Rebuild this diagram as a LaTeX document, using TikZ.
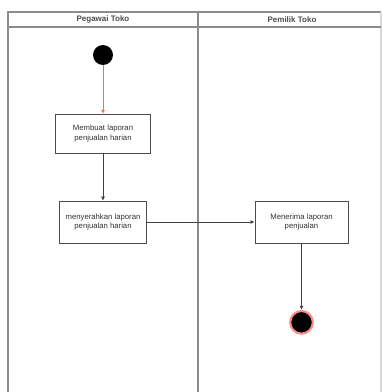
\documentclass[tikz,border=0pt]{standalone}
\usepackage{fontspec}
\setmainfont{Liberation Sans}
\usetikzlibrary{positioning}
\usetikzlibrary{arrows.meta}
\usepackage{xcolor}

\tikzset{
    activity/.style={draw=black!70, rectangle, fill=white, align=center, text=black!80, font=\fontsize{5.8}{7}\selectfont, inner sep=1pt},
    flow/.style={-{Latex[length=3pt,width=3pt]}, draw=black!75, line width=0.6pt},
    lane/.style={draw=black!45, line width=0.8pt}
}

\begin{document}
\begin{tikzpicture}[x=0.75pt, y=-0.75pt]
            % page size
            \useasboundingbox (0,0) rectangle (382,392);
            % swimlanes
            \draw[lane] (8,392) -- (8,12) -- (381,12);
            \draw[lane, draw=black!15] (381,12) -- (381,392);
            \draw[lane] (8,27) -- (381,27);
            \draw[lane] (198,12) -- (198,392);
            \node[font=\fontsize{6}{7}\selectfont\bfseries, text=black!70] (lane1) at (103,19.5) {Pegawai Toko};
            \node[font=\fontsize{6}{7}\selectfont\bfseries, text=black!70] (lane2) at (292,19.5) {Pemilik Toko};

            % activities
            \node[circle, fill=black, minimum size=15pt, inner sep=0pt] (start) at (103,55) {};
            \node[activity, minimum width=71pt, minimum height=29pt] (membuat) at (103,133.5) {Membuat laporan\\penjualan harian};
            \node[activity, minimum width=65pt, minimum height=31.5pt] (serah) at (103,222) {menyerahkan laporan\\penjualan harian};
            \node[activity, minimum width=70pt, minimum height=31.5pt] (terima) at (301.5,222) {Menerima laporan\\penjualan};
            \node[circle, fill=black, draw=red!45, line width=1.6pt, minimum size=17pt, inner sep=0pt, below=50pt of terima] (end) {};

            \draw[flow, draw=red!60, line width=0.7pt] (start) -- (membuat);
            \draw[flow] (membuat) -- (serah);
            \draw[flow] (serah) -- (terima);
            \draw[flow] (terima) -- (end);
        \end{tikzpicture}
\end{document}
